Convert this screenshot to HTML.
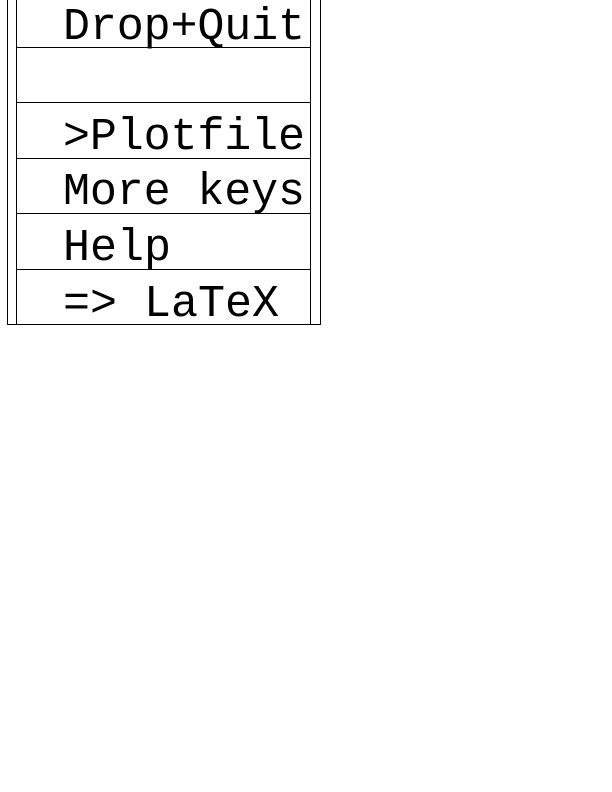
<!DOCTYPE html>
<html><head><style>body{margin:0;background:#fff}svg{display:block}</style></head><body>
<svg width="612" height="792" xmlns="http://www.w3.org/2000/svg">
<g stroke="#000" stroke-width="1" fill="none">
<line x1="7.5" y1="0" x2="7.5" y2="325"/>
<line x1="16.5" y1="0" x2="16.5" y2="325"/>
<line x1="310.5" y1="0" x2="310.5" y2="325"/>
<line x1="320.5" y1="0" x2="320.5" y2="325"/>
<line x1="16" y1="47.5" x2="311" y2="47.5"/>
<line x1="16" y1="102.5" x2="311" y2="102.5"/>
<line x1="16" y1="158.5" x2="311" y2="158.5"/>
<line x1="16" y1="213.5" x2="311" y2="213.5"/>
<line x1="16" y1="269.5" x2="311" y2="269.5"/>
<line x1="7" y1="324.5" x2="321" y2="324.5"/>
</g>
<g font-family="Liberation Mono, monospace" font-size="45" fill="#000">
<text x="63" y="39" textLength="242">Drop+Quit</text>
<text x="63" y="149" textLength="242">&gt;Plotfile</text>
<text x="63" y="204" textLength="242">More keys</text>
<text x="63" y="260">Help</text>
<text x="63" y="316">=&gt; LaTeX</text>
</g>
</svg>
</body></html>
